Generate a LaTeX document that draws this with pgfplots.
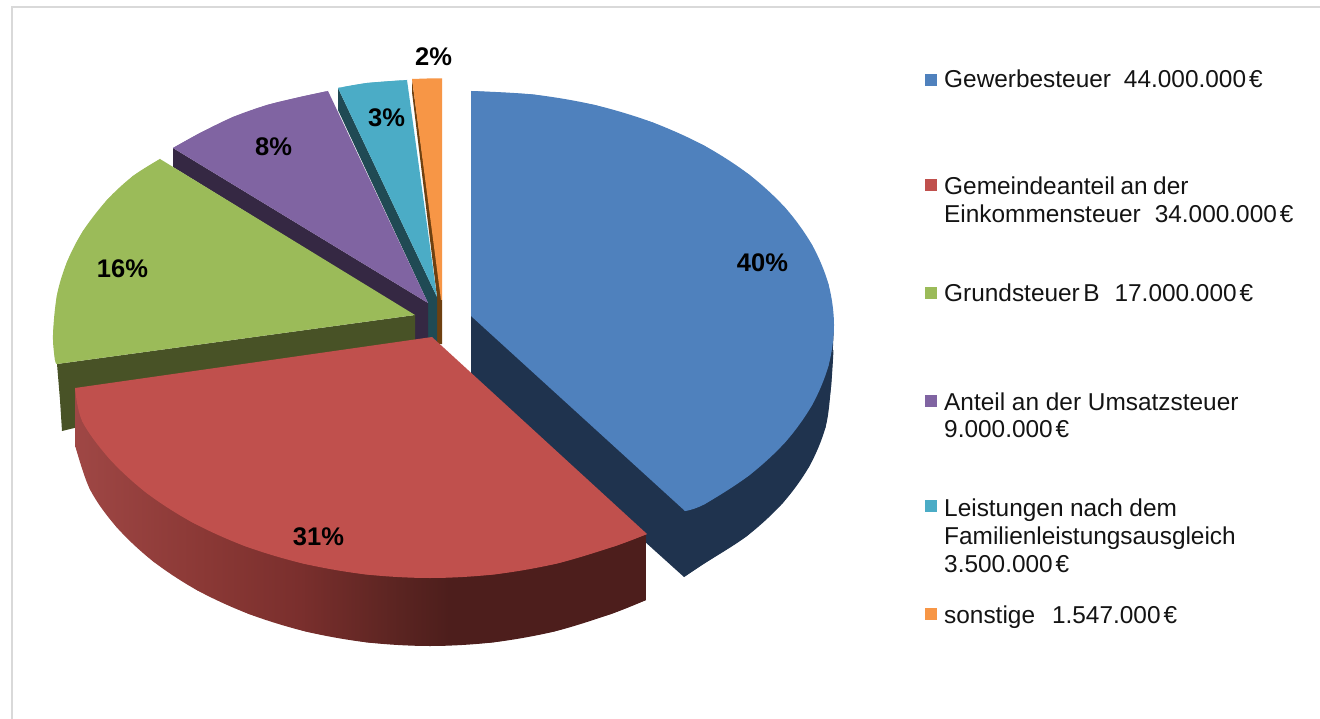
\documentclass[border=0pt]{standalone}
\usepackage{fontspec}
\setmainfont{Liberation Sans}
\usepackage{pgfplots}
\pgfplotsset{compat=1.18}

\definecolor{blueTop}{HTML}{4F81BD}\definecolor{blueSide}{HTML}{1F334E}
\definecolor{redTop}{HTML}{C0504D}
\definecolor{greenTop}{HTML}{9BBB59}\definecolor{greenSide}{HTML}{485226}
\definecolor{purpleTop}{HTML}{8064A2}\definecolor{purpleSide}{HTML}{352843}
\definecolor{cyanTop}{HTML}{4BACC6}\definecolor{cyanSide}{HTML}{204A54}
\definecolor{orangeTop}{HTML}{F79646}\definecolor{orangeSide}{HTML}{6E4010}
\definecolor{frameGrey}{HTML}{D9D9D9}

% Side wall of the red slice: light on the left, dark from the centre on
\pgfdeclarehorizontalshading{redwall}{100bp}{
  color(0bp)=(rgb,255:red,159;green,71;blue,69);
  color(25bp)=(rgb,255:red,159;green,71;blue,69);
  color(36.6bp)=(rgb,255:red,138;green,56;blue,53);
  color(44.7bp)=(rgb,255:red,122;green,47;blue,45);
  color(53.5bp)=(rgb,255:red,90;green,36;blue,33);
  color(57.8bp)=(rgb,255:red,77;green,30;blue,28);
  color(100bp)=(rgb,255:red,77;green,30;blue,28)}

% flat: straight-sided part of a face; rim: the region under its curved edge
\pgfplotsset{
  flat/.style={draw=none,fill=#1,mark=none},
  rim/.style={draw=none,fill=#1,smooth,tension=0.55,mark=none},
  key/.style={only marks,mark=square*,mark size=5.6pt,line width=0.8pt,mark options={draw=#1,fill=#1}}}
\newcommand{\legtext}[3]{\node[anchor=base west,inner sep=0pt,font=\fontsize{24.4}{28}\selectfont,text=black!92] at (axis cs:#1,#2) {#3};}
\newcommand{\pct}[3]{\node[font=\fontsize{25.5}{28}\selectfont\bfseries,inner sep=0pt] at (axis cs:#1,#2) {#3\%};}

\begin{document}
\begin{tikzpicture}
\begin{axis}[
  scale only axis, width=1320pt, height=719pt,
  xmin=0, xmax=1320, ymin=0, ymax=719, y dir=reverse,
  hide axis, clip=true]

% page background and frame
\addplot[flat=white] coordinates {(0,0)(1320,0)(1320,719)(0,719)};
\addplot[frameGrey,line width=2pt,mark=none] coordinates {(12,719)(12,7)(1320,7)};

% orange slice
\addplot[flat=orangeSide] coordinates {(412,79)(412,92)(437,297)(437,344)(442,344)(442,300)};
\addplot[flat=orangeTop] coordinates {(412,79)(427,78.5)(442,78.5)(442,300)(441,300)};

% cyan slice
\addplot[flat=cyanSide] coordinates {(338,88)(338,110)(428,303)(428,342)(437,342)(437,297)};
\addplot[flat=cyanTop] coordinates {(338,88)(367,83)(407,80)(437,297)};
\addplot[rim=cyanTop] coordinates {(338,88)(367,83)(407,80)};

% purple slice
\addplot[flat=purpleSide] coordinates {(173,148)(173,167)(415,316)(415,342)(428,342)(428,303)};
\addplot[flat=purpleTop] coordinates {(173,148)(200,133)(233,117)(267,105)(300,97)(328,91)(428,303)};
\addplot[rim=purpleTop] coordinates {(173,148)(200,133)(233,117)(267,105)(300,97)(328,91)};

% green slice
\addplot[flat=greenSide] coordinates {(57,364)(415,315)(415,345)(62,431)(60,400)};
\addplot[flat=greenTop] coordinates {(160,159)(133,176)(107,200)(83,231)(67,262)(57,295)(53,335)(55,360)(57,364)(415,315)};
\addplot[rim=greenTop] coordinates {(160,159)(133,176)(107,200)(83,231)(67,262)(57,295)(53,335)(55,360)(57,364)};

% blue slice: wall, then top face
\addplot[flat=blueSide] coordinates {(471,316)(471,385)(684,577)(702.4,564.7)(746.8,536.1)(782.8,503)(809.3,466.3)(825.5,427.3)(831,387)(834,325)};
\addplot[rim=blueSide] coordinates {(684,577)(702.4,564.7)(746.8,536.1)(782.8,503)(809.3,466.3)(825.5,427.3)(831,387)(833.5,350)};
\addplot[flat=blueTop] coordinates {(471,91)(534,94.6)(595.2,105.1)(652.5,122.4)(704.3,145.7)(749.1,174.6)(785.4,208)(812.1,245)(828.5,284.4)(834,325)(828.5,365.6)(812.1,405)(785.4,442)(749.1,475.4)(704.3,504.3)(685,511)(471,316)};
\addplot[rim=blueTop] coordinates {(471,91)(534,94.6)(595.2,105.1)(652.5,122.4)(704.3,145.7)(749.1,174.6)(785.4,208)(812.1,245)(828.5,284.4)(834,325)(828.5,365.6)(812.1,405)(785.4,442)(749.1,475.4)(704.3,504.3)(685,511)};

% red slice: shaded wall, then top face
\addplot[draw=none,shade,shading=redwall,mark=none] coordinates {(75,388)(75,445)(90,489.4)(116.5,527)(152.7,561)(197.3,590.3)(249,614)(306.2,631.6)(367.2,642.4)(430,646)(492.8,642.4)(553.8,631.6)(611,614)(646,600)(646,535)};
\addplot[draw=none,shade,shading=redwall,smooth,tension=0.55,mark=none] coordinates {(75,445)(90,489.4)(116.5,527)(152.7,561)(197.3,590.3)(249,614)(306.2,631.6)(367.2,642.4)(430,646)(492.8,642.4)(553.8,631.6)(611,614)(646,600)};
\addplot[flat=redTop] coordinates {(75,388)(82.3,421.4)(109.6,459)(146.6,493)(192.2,522.3)(245,546.1)(303.5,563.6)(365.8,574.4)(430,578)(494.2,574.4)(556.5,563.6)(615,546.1)(647,534)(432,337)};
\addplot[rim=redTop] coordinates {(75,388)(82.3,421.4)(109.6,459)(146.6,493)(192.2,522.3)(245,546.1)(303.5,563.6)(365.8,574.4)(430,578)(494.2,574.4)(556.5,563.6)(615,546.1)(647,534)};

% slice shares
\pct{762.5}{262.5}{40}
\pct{318.5}{536.5}{31}
\pct{122.5}{268.5}{16}
\pct{273.5}{146.5}{8}
\pct{386.5}{117.5}{3}
\pct{433.5}{56.5}{2}

% key
\addplot[key=blueTop] coordinates {(931,80)};
\addplot[key=redTop] coordinates {(931,185)};
\addplot[key=greenTop] coordinates {(931,293)};
\addplot[key=purpleTop] coordinates {(931,401)};
\addplot[key=cyanTop] coordinates {(931,506)};
\addplot[key=orangeTop] coordinates {(931,614)};

\legtext{944}{87.4}{Gewerbesteuer\hspace{13pt}44.000.000\hspace{3pt}€}
\legtext{944}{194.7}{Gemeindeanteil\hspace{5.5pt}an\hspace{5.5pt}der}
\legtext{944}{222.4}{Einkommensteuer\hspace{14pt}34.000.000\hspace{3pt}€}
\legtext{944}{301.4}{Grundsteuer\hspace{3.5pt}B\hspace{15pt}17.000.000\hspace{3pt}€}
\legtext{944}{410}{Anteil an der Umsatzsteuer}
\legtext{944}{437.4}{9.000.000\hspace{3pt}€}
\legtext{944}{516.4}{Leistungen\hspace{6.5pt}nach\hspace{6.5pt}dem}
\legtext{944}{544}{Familienleistungsausgleich}
\legtext{944}{572.4}{3.500.000\hspace{3pt}€}
\legtext{944}{623}{sonstige\hspace{17pt}1.547.000\hspace{3pt}€}
\end{axis}
\end{tikzpicture}
\end{document}
